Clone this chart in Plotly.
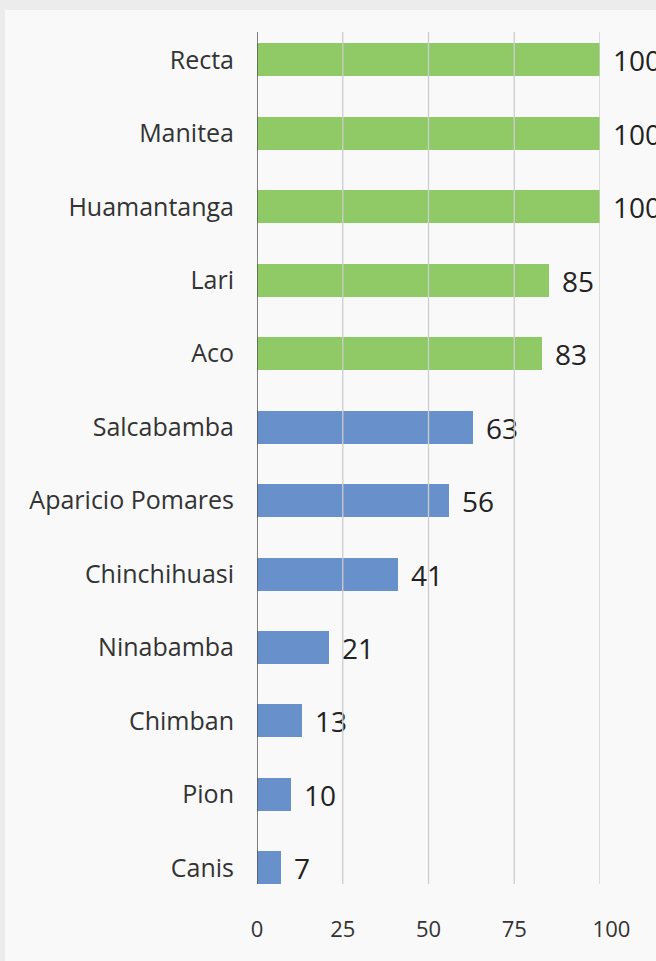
import plotly.graph_objects as go

categories = ["Recta", "Manitea", "Huamantanga", "Lari", "Aco", "Salcabamba",
              "Aparicio Pomares", "Chinchihuasi", "Ninabamba", "Chimban", "Pion", "Canis"]
values = [100, 100, 100, 85, 83, 63, 56, 41, 21, 13, 10, 7]
bar_colors = ["#8fca67"] * 5 + ["#6890ca"] * 7
x_ticks = [0, 25, 50, 75, 100]
x_tick_labels = ["0", "25", "50", "75", "100"]

W, H = 656, 961
L, R, T, B = 257, 56, 32, 77
pw, ph = W - L - R, H - T - B

FONT = "Open Sans"

fig = go.Figure(go.Bar(
    x=values, y=categories, orientation="h",
    marker=dict(color=bar_colors, line=dict(width=0)),
    width=0.45,
    text=[str(v) for v in values], texttemplate="\u00a0\u200a%{text}",
    textposition="outside",
    textfont=dict(family=FONT, size=28, color="#222222"),
    constraintext="none",
    cliponaxis=False,
))

shapes = [dict(type="rect", xref="paper", yref="paper",
               x0=(5 - L) / pw, x1=(W - L) / pw + 0.05,
               y0=(T + ph - H) / ph - 0.05, y1=(T + ph - 10) / ph,
               fillcolor="#f9f9f9", line=dict(width=0), layer="below")]
for v in x_ticks[1:]:
    shapes.append(dict(type="line", xref="x", yref="paper", x0=v, x1=v, y0=0, y1=1,
                       line=dict(color="#cdcdcd", width=1.3), layer="above"))
shapes.append(dict(type="line", xref="x", yref="paper", x0=0, x1=0, y0=0, y1=1,
                   line=dict(color="#555555", width=1.5), layer="above"))

# last tick label sits a little to the right in the reference
tick_text = x_tick_labels[:-1] + ["\u00a0" * 4 + x_tick_labels[-1]]

fig.update_layout(
    width=W, height=H,
    margin=dict(l=L, r=R, t=T, b=B, pad=0),
    paper_bgcolor="#ececec", plot_bgcolor="#f9f9f9",
    showlegend=False,
    bargap=0,
    shapes=shapes,
    xaxis=dict(range=[0, 100], tickvals=x_ticks, ticktext=tick_text,
               showgrid=False, zeroline=False,
               showline=False, ticks="", ticklabelstandoff=30,
               tickfont=dict(family=FONT, size=22, color="#333333")),
    yaxis=dict(range=[11.22, -0.38], showgrid=False, zeroline=False, showline=False,
               ticks="", ticklabelstandoff=22,
               tickfont=dict(family=FONT, size=25, color="#333333")),
)

fig.write_html("out.html",
               config={"displayModeBar": False},
               post_script="document.body.style.margin='0';"
                           "document.body.style.backgroundColor='#ececec';")
